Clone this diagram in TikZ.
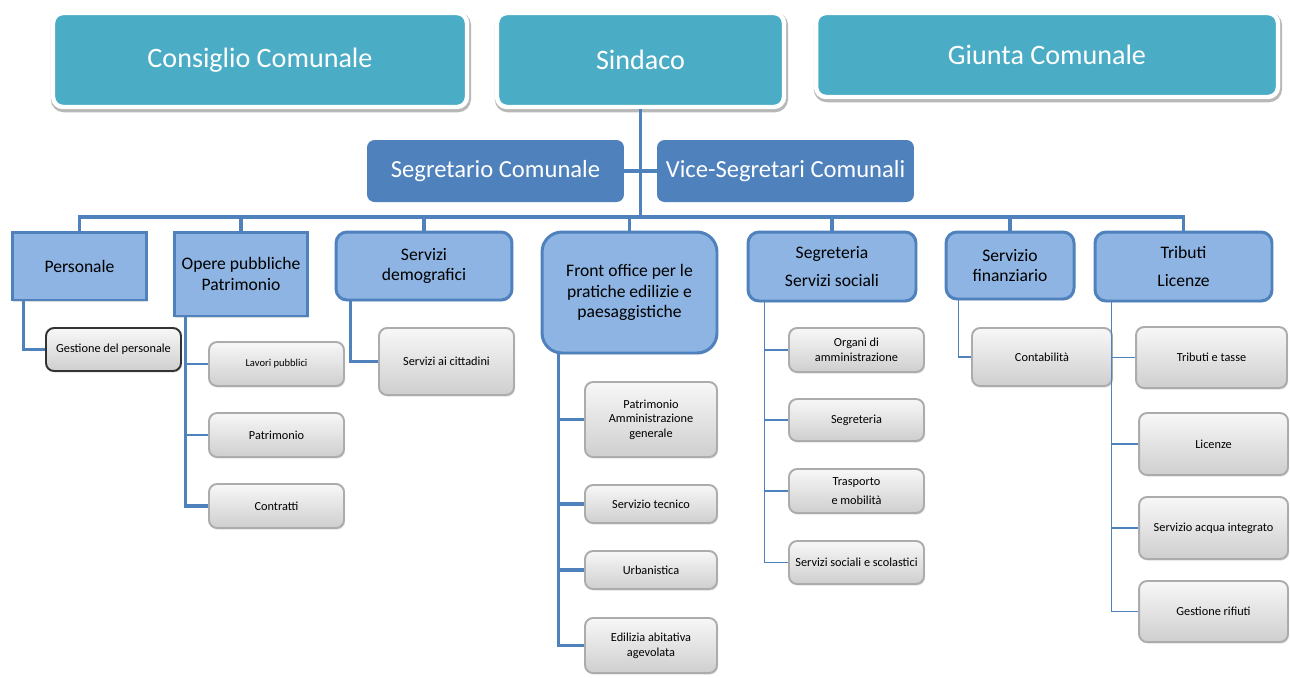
\documentclass[tikz,border=0pt]{standalone}
\usepackage{fontspec}
\setmainfont{Carlito}
\usetikzlibrary{calc,shadows}
\definecolor{topteal}{RGB}{75,172,198}
\definecolor{secblue}{RGB}{79,129,189}
\definecolor{unitblue}{RGB}{141,180,226}
\tikzset{
  topbox/.style={draw=white,line width=2.5pt,fill=topteal,rounded corners=0.2cm,text=white,
    font=\fontsize{16}{19}\selectfont,
    drop shadow={opacity=0.28,shadow xshift=0.5pt,shadow yshift=-1.2pt,draw=black,line width=3.6pt}},
  secbox/.style={fill=secblue,rounded corners=0.15cm,text=white,
    font=\fontsize{14}{17}\selectfont,minimum width=5.14cm,minimum height=1.24cm},
  unitbox/.style={draw=secblue,line width=1.7pt,fill=unitblue,rounded corners=0.22cm,
    align=center,font=\fontsize{10}{11.5}\selectfont,
    drop shadow={opacity=0.25,shadow xshift=0.6pt,shadow yshift=-0.9pt}},
  officebox/.style={draw=gray!65,line width=1.1pt,top color=gray!6,bottom color=gray!38,
    rounded corners=0.16cm,align=center,font=\fontsize{7}{8.3}\selectfont,
    drop shadow={opacity=0.25,shadow xshift=0.6pt,shadow yshift=-0.9pt}},
  link/.style={draw=secblue,line width=1.8pt},
  thinlink/.style={draw=secblue,line width=0.9pt}
}
\begin{document}
\begin{tikzpicture}[x=0.02cm,y=-0.02cm]
\useasboundingbox (0,0) rectangle (1290,677);

% vertici
\node[topbox,minimum width=8.28cm,minimum height=1.88cm] (consiglio) at (260,60) {Consiglio Comunale};
\node[topbox,minimum width=5.74cm,minimum height=1.88cm] (sindaco) at (640.5,60) {Sindaco};
\node[topbox,minimum width=9.24cm,minimum height=1.68cm] (giunta) at (1047,55) {Giunta Comunale};
\node[secbox] (segretario) at (495.5,171) {Segretario Comunale};
\node[secbox] (vice) at (785.5,171) {Vice-Segretari Comunali};

% settori
\node[unitbox,rounded corners=0pt,minimum width=2.70cm,minimum height=1.36cm] (personale) at (79.5,266) {Personale};
\node[unitbox,rounded corners=0pt,minimum width=2.68cm,minimum height=1.68cm] (opere) at (241,274) {Opere pubbliche\\Patrimonio};
\node[unitbox,minimum width=3.52cm,minimum height=1.36cm] (demografici) at (424,266) {Servizi\\demografici};
\node[unitbox,rounded corners=0.4cm,minimum width=3.50cm,minimum height=2.42cm] (frontoffice) at (629.5,292.5) {Front office per le\\pratiche edilizie e\\paesaggistiche};
\node[unitbox,minimum width=3.36cm,minimum height=1.38cm] (segreteria) at (832,266.5) {Segreteria\\[4pt]Servizi sociali};
\node[unitbox,minimum width=2.56cm,minimum height=1.34cm] (finanziario) at (1010,265.5) {Servizio\\finanziario};
\node[unitbox,minimum width=3.54cm,minimum height=1.38cm] (tributi) at (1183.5,266.5) {Tributi\\[4pt]Licenze};

% uffici
\node[officebox,draw=black!80,minimum width=2.70cm,minimum height=0.86cm] (gestione) at (113.5,349.5) {Gestione del personale};
\node[officebox,font=\fontsize{6}{7}\selectfont,minimum width=2.70cm,minimum height=0.88cm] (lavori) at (276.5,364) {Lavori pubblici};
\node[officebox,minimum width=2.70cm,minimum height=0.88cm] (patrimonio) at (276.5,435) {Patrimonio};
\node[officebox,minimum width=2.70cm,minimum height=0.88cm] (contratti) at (276.5,506) {Contratti};
\node[officebox,minimum width=2.70cm,minimum height=1.34cm] (cittadini) at (446.5,361.5) {Servizi ai cittadini};
\node[officebox,minimum width=2.64cm,minimum height=1.50cm] (amministrazione) at (651,419.5) {Patrimonio\\Amministrazione\\generale};
\node[officebox,minimum width=2.64cm,minimum height=0.76cm] (tecnico) at (651,504) {Servizio tecnico};
\node[officebox,minimum width=2.64cm,minimum height=0.76cm] (urbanistica) at (651,570) {Urbanistica};
\node[officebox,minimum width=2.64cm,minimum height=1.10cm] (edilizia) at (651,645.5) {Edilizia abitativa\\agevolata};
\node[officebox,minimum width=2.70cm,minimum height=0.88cm] (organi) at (856.5,350) {Organi di\\amministrazione};
\node[officebox,minimum width=2.70cm,minimum height=0.84cm] (segr) at (856.5,420) {Segreteria};
\node[officebox,minimum width=2.70cm,minimum height=0.88cm] (trasporto) at (856.5,491) {Trasporto\\[2.5pt]e mobilità};
\node[officebox,minimum width=2.70cm,minimum height=0.86cm] (scolastici) at (856.5,562.5) {Servizi sociali e scolastici};
\node[officebox,minimum width=2.80cm,minimum height=1.16cm] (contabilita) at (1042,357) {Contabilità};
\node[officebox,minimum width=3.02cm,minimum height=1.22cm] (tasse) at (1211.5,357.5) {Tributi e tasse};
\node[officebox,minimum width=2.98cm,minimum height=1.24cm] (licenze) at (1213.5,444) {Licenze};
\node[officebox,minimum width=2.98cm,minimum height=1.24cm] (acqua) at (1213.5,528) {Servizio acqua integrato};
\node[officebox,minimum width=2.98cm,minimum height=1.22cm] (rifiuti) at (1213.5,611.5) {Gestione rifiuti};

% collegamenti
\coordinate (bus) at (640.5,217);
\draw[link] (sindaco.south) -- (bus);
\draw[link] (segretario.east) -- (vice.west);
\draw[link] (personale.north) |- (bus) -| (tributi.north);
\foreach \n in {opere,demografici,frontoffice,segreteria,finanziario}
  \draw[link] (\n.north) -- (\n.north |- bus);

\coordinate (colpers) at ($(personale.south west)+(13,0)$);
\coordinate (colopere) at ($(opere.south west)+(13,0)$);
\coordinate (coldemo) at ($(demografici.south west)+(16,0)$);
\coordinate (colfront) at ($(frontoffice.south west)+(18,0)$);
\coordinate (colsegr) at ($(segreteria.south west)+(18,0)$);
\coordinate (colfin) at ($(finanziario.south west)+(14,0)$);
\coordinate (coltrib) at ($(tributi.south west)+(18,0)$);

\draw[link] (colpers) |- (gestione.west);
\draw[link] (colopere) |- (contratti.west);
\draw[thinlink] (colopere |- lavori.west) -- (lavori.west);
\draw[thinlink] (colopere |- patrimonio.west) -- (patrimonio.west);
\draw[link] (coldemo) |- (cittadini.west);
\draw[link] (colfront) |- (edilizia.west);
\foreach \n in {amministrazione,tecnico,urbanistica}
  \draw[link] (colfront |- \n.west) -- (\n.west);
\draw[thinlink] (colsegr) |- (scolastici.west);
\foreach \n in {organi,segr,trasporto}
  \draw[thinlink] (colsegr |- \n.west) -- (\n.west);
\draw[thinlink] (colfin) |- (contabilita.west);
\draw[thinlink] (coltrib) |- (rifiuti.west);
\foreach \n in {tasse,licenze,acqua}
  \draw[thinlink] (coltrib |- \n.west) -- (\n.west);
\end{tikzpicture}
\end{document}
